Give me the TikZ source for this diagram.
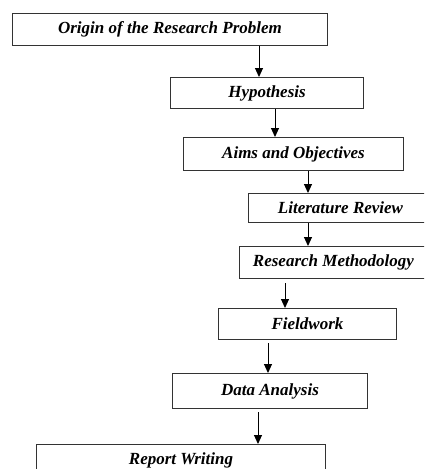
\documentclass[tikz,border=0pt]{standalone}
\usepackage{fontspec}
\setmainfont{Liberation Serif}
\usetikzlibrary{arrows.meta}
\begin{document}
\begin{tikzpicture}[x=1pt,y=-1pt,
  box/.style={draw=black!80, line width=1pt, fill=white, rectangle, anchor=north west,
    inner sep=0pt, font=\fontsize{17}{20}\selectfont\bfseries\itshape},
  arr/.style={draw=black, line width=1pt, -{Triangle[width=8pt,length=9pt]}}]
\useasboundingbox (0,0) rectangle (424,469);
\clip (0,0) rectangle (424,469);
\node[box, minimum width=315pt, minimum height=32pt] (o) at (12,13) {Origin of the Research Problem};
\node[box, minimum width=193pt, minimum height=31pt] (h) at (170,77) {Hypothesis};
\node[box, minimum width=220pt, minimum height=33pt] (a) at (183,137) {Aims and Objectives};
\node[box, minimum width=184pt, minimum height=29pt] (l) at (248,193) {Literature Review};
\node[box, minimum width=188pt, minimum height=32pt] (r) at (239,246) {Research Methodology};
\node[box, minimum width=178pt, minimum height=31pt] (f) at (218,308) {Fieldwork};
\node[box, minimum width=195pt, minimum height=35pt] (d) at (172,373) {Data Analysis};
\node[box, minimum width=289pt, minimum height=32pt] (w) at (36,444) {Report Writing};
\coordinate (x1) at (259,0);
\coordinate (x2) at (275,0);
\coordinate (x3) at (308,0);
\coordinate (x5) at (285,0);
\coordinate (x6) at (268,0);
\coordinate (x7) at (258,0);
\draw[arr] (o.south -| x1) -- (h.north -| x1);
\draw[arr] (h.south -| x2) -- (a.north -| x2);
\draw[arr] (a.south -| x3) -- (l.north -| x3);
\draw[arr] (l.south -| x3) -- (r.north -| x3);
\draw[arr, shorten <=4pt] (r.south -| x5) -- (f.north -| x5);
\draw[arr, shorten <=3pt] (f.south -| x6) -- (d.north -| x6);
\draw[arr, shorten <=3pt] (d.south -| x7) -- (w.north -| x7);
\end{tikzpicture}
\end{document}
